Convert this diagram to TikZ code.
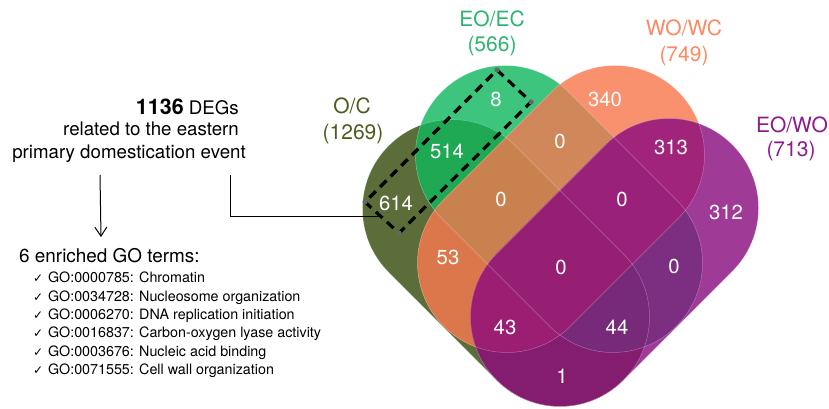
\documentclass[tikz,border=0pt]{standalone}
\usepackage{fontspec}
\setmainfont{TeX Gyre Heros}
\newfontfamily\ckfont{DejaVu Sans}
\usetikzlibrary{calc,arrows.meta}
\definecolor{cA}{HTML}{5B6E3A}
\definecolor{cB}{HTML}{3DC47D}
\definecolor{cC}{HTML}{F9916F}
\definecolor{cD}{HTML}{A03A97}
\definecolor{cAB}{HTML}{1FA955}
\definecolor{cAC}{HTML}{DC774B}
\definecolor{cAD}{HTML}{841D70}
\definecolor{cBC}{HTML}{D0875A}
\definecolor{cBD}{HTML}{7C2E80}
\definecolor{cCD}{HTML}{A0247A}
\definecolor{cABC}{HTML}{C9814F}
\definecolor{cABD}{HTML}{772A79}
\definecolor{cACD}{HTML}{9C1E72}
\definecolor{cBCD}{HTML}{99217A}
\definecolor{cABCD}{HTML}{971F73}
\definecolor{lA}{HTML}{4A5E1E}
\definecolor{lB}{HTML}{2DB46E}
\definecolor{lC}{HTML}{F98A62}
\definecolor{lD}{HTML}{8E1B8A}
\def\VR{89.5}
\newcommand\stadAB[2]{($(#1)+(45:\VR)$) arc[start angle=45,end angle=225,radius=\VR] -- ($(#2)+(-135:\VR)$) arc[start angle=-135,end angle=45,radius=\VR] -- cycle}
\newcommand\stadCD[2]{($(#1)+(315:\VR)$) arc[start angle=315,end angle=495,radius=\VR] -- ($(#2)+(135:\VR)$) arc[start angle=135,end angle=315,radius=\VR] -- cycle}
\def\pA{\stadAB{452,200}{560,92}}
\def\pB{\stadAB{505,254}{613,146}}
\def\pC{\stadCD{615,254}{507,146}}
\def\pD{\stadCD{669,201}{560,92}}
\newcommand\ckmark{{\ckfont\fontsize{12}{14}\selectfont ✓}\hspace{4.8pt}}
\tikzset{
  num/.style={text=white, font=\fontsize{20.3}{24}\selectfont, inner sep=0pt},
  lab/.style={font=\fontsize{21}{25}\selectfont, inner sep=0pt, anchor=base},
  txt/.style={font=\fontsize{18.7}{22}\selectfont, inner sep=0pt, anchor=base east},
  golist/.style={font=\fontsize{14.3}{17}\selectfont, inner sep=0pt, anchor=base west},
  seam/.style={draw=white, draw opacity=0.3, line width=0.5pt},
  dashbox/.style={draw=black, line width=3.2pt, dash pattern=on 9pt off 6pt},
  marker/.style={fill=black!60},
  conn/.style={draw=black, line width=1pt}
}
\begin{document}
\begin{tikzpicture}[x=1pt,y=1pt]
\useasboundingbox (0,0) rectangle (829,409);
% single sets
\fill[cA] \pA;
\fill[cB] \pB;
\fill[cC] \pC;
\fill[cD] \pD;
% pairs
\begin{scope}\clip \pA; \fill[cAB] \pB; \end{scope}
\begin{scope}\clip \pA; \fill[cAC] \pC; \end{scope}
\begin{scope}\clip \pA; \fill[cAD] \pD; \end{scope}
\begin{scope}\clip \pB; \fill[cBC] \pC; \end{scope}
\begin{scope}\clip \pB; \fill[cBD] \pD; \end{scope}
\begin{scope}\clip \pC; \fill[cCD] \pD; \end{scope}
% triples
\begin{scope}\clip \pA; \clip \pB; \fill[cABC] \pC; \end{scope}
\begin{scope}\clip \pA; \clip \pB; \fill[cABD] \pD; \end{scope}
\begin{scope}\clip \pA; \clip \pC; \fill[cACD] \pD; \end{scope}
\begin{scope}\clip \pB; \clip \pC; \fill[cBCD] \pD; \end{scope}
% all four
\begin{scope}\clip \pA; \clip \pB; \clip \pC; \fill[cABCD] \pD; \end{scope}
% seams
\path[seam] \pA; \path[seam] \pB; \path[seam] \pC; \path[seam] \pD;

% region counts
\node[num] (n614) at (396,206) {614};
\node[num] (n514) at (447,258) {514};
\node[num] (n8) at (496,310) {8};
\node[num] (n340) at (605,310) {340};
\node[num] (nBC) at (560,268) {0};
\node[num] (nABC) at (501,210) {0};
\node[num] (n313) at (671,262) {313};
\node[num] (nBCD) at (622,210) {0};
\node[num] (n312) at (726,197) {312};
\node[num] (n53) at (448,152) {53};
\node[num] (nABCD) at (561,142) {0};
\node[num] (nBD) at (674,143) {0};
\node[num] (n43) at (505,82) {43};
\node[num] (n44) at (617,82) {44};
\node[num] (n1) at (562,33) {1};

% set labels
\node[lab, text=lA] (lOC) at (352,295.7) {O/C};
\node[lab, text=lA] (lOCn) at (353,269) {(1269)};
\node[lab, text=lB] (lEE) at (492,382.3) {EO/EC};
\node[lab, text=lB] (lEEn) at (492,357.3) {(566)};
\node[lab, text=lC] (lWW) at (684,373) {WO/WC};
\node[lab, text=lC] (lWWn) at (684,347.3) {(749)};
\node[lab, text=lD] (lEW) at (792,276.3) {EO/WO};
\node[lab, text=lD] (lEWn) at (791,252.3) {(713)};

% dashed selection box
\coordinate (bT) at (497,339);
\coordinate (bR) at (531,307);
\coordinate (bB) at (399,176);
\coordinate (bL) at (365,207);
\draw[dashbox] (bT) -- (bR) -- (bB) -- (bL) -- cycle;
\foreach \c in {bT,bR,bB,bL} \fill[marker] (\c) circle (2.5);

% left texts
\node[txt] (t1) at (239,294) {{\fontsize{21.5}{25}\selectfont\bfseries 1136} DEGs};
\node[txt] (t2) at (239,273) {related to the eastern};
\node[txt] (t3) at (246,250.7) {primary domestication event};

\node[font=\fontsize{18.9}{22}\selectfont, inner sep=0pt, anchor=base west] (go0) at (19,146.3) {6 enriched GO terms:};
\node[golist] (g1) at (33,126.3) {\ckmark GO:0000785: Chromatin};
\node[golist] (g2) at (33,107.9) {\ckmark GO:0034728: Nucleosome organization};
\node[golist] (g3) at (33,89.5) {\ckmark GO:0006270: DNA replication initiation};
\node[golist] (g4) at (33,71.1) {\ckmark GO:0016837: Carbon-oxygen lyase activity};
\node[golist] (g5) at (33,52.7) {\ckmark GO:0003676: Nucleic acid binding};
\node[golist] (g6) at (33,34.3) {\ckmark GO:0071555: Cell wall organization};

% connectors
\coordinate (a1) at (100,234);
\coordinate (a2) at (101,172);
\draw[conn, -{Straight Barb[length=9pt,width=12pt]}] (a1) -- (a2);
\coordinate (c1) at (230,234);
\coordinate (c2) at (381,192);
\draw[conn] (c1) |- (c2);
\end{tikzpicture}
\end{document}
